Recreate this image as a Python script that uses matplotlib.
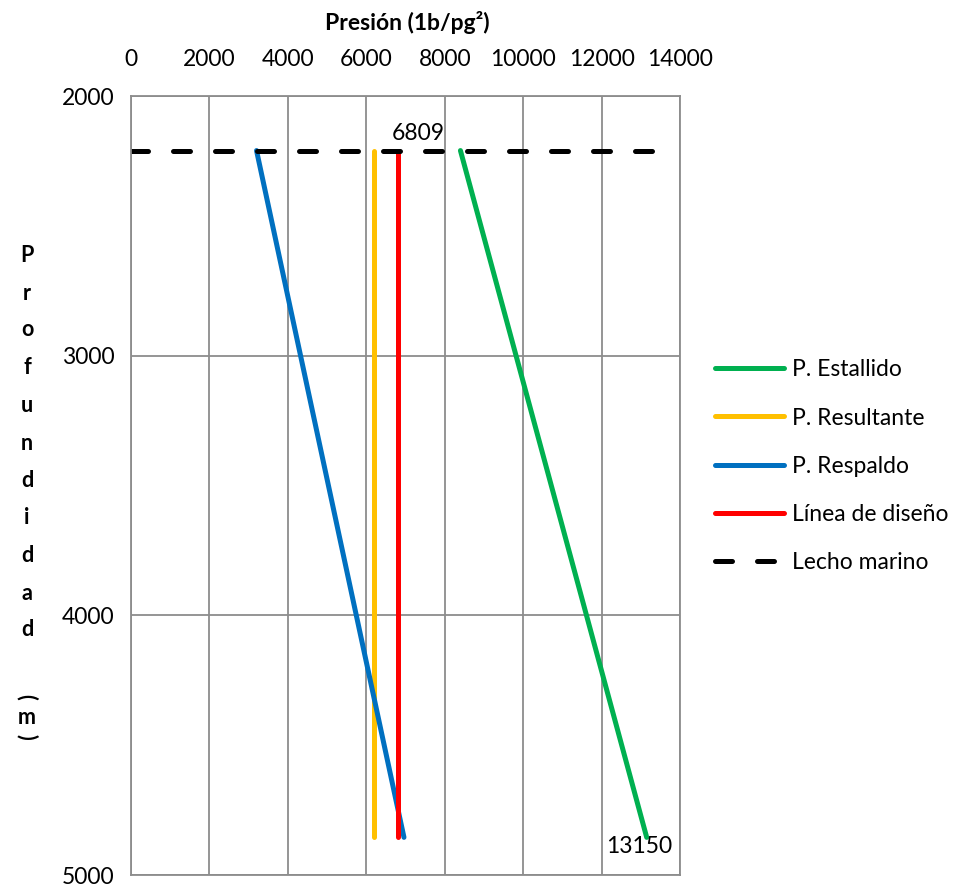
import matplotlib
matplotlib.use("Agg")
import matplotlib.pyplot as plt

plt.rcParams["font.family"] = ["Lato", "DejaVu Sans"]

# depth (m) at sea floor and at the bottom of the string
depths = [2210, 4855]

estallido = [8400, 13150]
resultante = [6190, 6190]
respaldo = [3200, 6960]
diseno = [6809, 6809]

lecho_x = [0, 13550]
lecho_y = [2210, 2210]

labels = ["P. Estallido", "P. Resultante", "P. Respaldo", "Línea de diseño", "Lecho marino"]
colors = ["#00B050", "#FFC000", "#0070C0", "#FF0000", "black"]

xticks = list(range(0, 14001, 2000))
yticks = [2000, 3000, 4000, 5000]

fs = 16.5

fig = plt.figure(figsize=(9.65, 8.86), dpi=100)
ax = fig.add_axes([0.1358, 0.0124, 0.5689, 0.8792])

lw = 3.6
ax.plot(estallido, depths, color=colors[0], lw=lw, solid_capstyle="round", label=labels[0])
ax.plot(resultante, depths, color=colors[1], lw=lw, solid_capstyle="round", label=labels[1])
ax.plot(respaldo, depths, color=colors[2], lw=lw, solid_capstyle="round", label=labels[2])
ax.plot(diseno, depths, color=colors[3], lw=lw, solid_capstyle="round", label=labels[3])
ax.plot(lecho_x, lecho_y, color=colors[4], lw=lw, dashes=(3.4, 5.0),
        dash_capstyle="round", label=labels[4])

ax.text(diseno[0] - 160, depths[0] - 25, "6809", ha="left", va="bottom", fontsize=fs)
ax.text(estallido[1] - 200, depths[1] + 35, "13150", ha="center", va="center", fontsize=fs)

ax.set_xlim(0, 14000)
ax.set_ylim(5000, 2000)
ax.set_xticks(xticks)
ax.set_yticks(yticks)
ax.xaxis.tick_top()
ax.tick_params(axis="both", length=0, labelsize=fs)
ax.tick_params(axis="x", pad=19)
ax.tick_params(axis="y", pad=12)
ax.grid(True, color="#8c8c8c", lw=1.3)
for s in ax.spines.values():
    s.set_color("#8c8c8c")
    s.set_linewidth(1.3)

fig.text(0.4218, 1 - 22 / 886, "Presión (1b/pg²)", ha="center", va="center",
         fontsize=fs, fontweight="bold")

# stacked vertical y-axis title
ychars = ["P", "r", "o", "f", "u", "n", "d", "i", "d", "a", "d", "(", "m", ")"]
ypix = [255, 293, 330, 367, 405, 443, 480, 518, 555, 593, 630, 697, 718, 737]
for ch, yp in zip(ychars, ypix):
    rot = -90 if ch in "()" else 0
    fig.text(27 / 965, 1 - yp / 886, ch, ha="center", va="center", rotation=rot,
             fontsize=fs - 1, fontweight="bold")

leg = ax.legend(loc="center left", bbox_to_anchor=(1.064, 0.525), frameon=False,
                fontsize=fs, handlelength=3.0, handletextpad=0.35, labelspacing=1.18,
                borderpad=0, borderaxespad=0)

fig.savefig("out.png", dpi=100)
